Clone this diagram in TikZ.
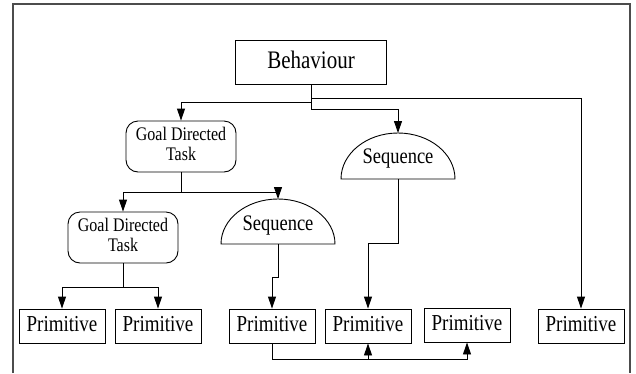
\documentclass[tikz,border=0pt]{standalone}
\usepackage{fontspec}
\usepackage{graphicx}
\setmainfont{Liberation Serif}
\usetikzlibrary{arrows.meta}
% text in the figure is drawn a little taller than wide
\newcommand{\talltext}[1]{\scalebox{1}[1.2]{\begin{tabular}{@{}c@{}}#1\end{tabular}}}

\begin{document}
\begin{tikzpicture}[x=1pt,y=-1pt,
  box/.style={draw,line width=0.9pt,inner sep=0pt,align=center},
  prim/.style={box,minimum width=86pt,minimum height=34pt,font=\fontsize{19}{22}\selectfont},
  gdt/.style={box,rounded corners=12pt,minimum width=110pt,minimum height=51pt,font=\fontsize{16}{16.7}\selectfont},
  seqtext/.style={inner sep=0pt,font=\fontsize{18.5}{22}\selectfont},
  arr/.style={line width=0.9pt,-{Triangle[length=12pt,width=8pt]}},
  link/.style={line width=0.9pt}]
\useasboundingbox (0,0) rectangle (636,373);
% frame, open at the bottom
\draw[line width=1.4pt,black!70] (13,373) -- (13,4) -- (630,4) -- (630,373);
% top level
\node[box,minimum width=151pt,minimum height=44pt,font=\fontsize{21}{25}\selectfont] (beh) at (311,62) {\talltext{Behaviour}};
\node[gdt] (gdtA) at (181,146.5) {\talltext{Goal Directed\\Task}};
\node[gdt] (gdtB) at (123,237.5) {\talltext{Goal Directed\\Task}};
% sequence domes
\coordinate (seqAbot) at (398,179);
\coordinate (seqAtop) at (398,133);
\draw[link] ([xshift=-57pt]seqAbot) arc[start angle=180,end angle=0,x radius=57pt,y radius=46pt] -- cycle;
\node[seqtext] (seqA) at (398,158) {\talltext{Sequence}};
\coordinate (seqBbot) at (278,244);
\coordinate (seqBtop) at (278,199);
\draw[link] ([xshift=-57pt]seqBbot) arc[start angle=180,end angle=0,x radius=57pt,y radius=45pt] -- cycle;
\node[seqtext] (seqB) at (278,225) {\talltext{Sequence}};
% primitives
\node[prim] (primA) at (62,326) {\talltext{Primitive}};
\node[prim] (primB) at (158,326) {\talltext{Primitive}};
\node[prim] (primC) at (272,326) {\talltext{Primitive}};
\node[prim] (primD) at (368,326) {\talltext{Primitive}};
\node[prim] (primE) at (467,325) {\talltext{Primitive}};
\node[prim] (primF) at (581,326) {\talltext{Primitive}};
% connectors
\draw[arr] (beh.south) -- ++(0,18) -| (gdtA.north);
\draw[arr] (beh.south) -- ++(0,14) -| (primF.north);
\draw[arr] (beh.south) -- ++(0,25) -| (seqAtop);
\draw[arr] (gdtA.south) -- ++(0,20) -| (gdtB.north);
\draw[arr] (gdtA.south) -- ++(0,20) -| (seqBtop);
\draw[arr] (gdtB.south) -- ++(0,24) -| (primA.north);
\draw[arr] (gdtB.south) -- ++(0,24) -| (primB.north);
\draw[arr] (seqBbot) -- ++(0,33) -| (primC.north);
\draw[arr] (seqAbot) -- ++(0,64) -| (primD.north);
\draw[arr] (primC.south) -- ++(0,16) coordinate (bus) -| (primE.south);
\draw[arr] (bus -| primD.south) -- (primD.south);
\end{tikzpicture}
\end{document}
